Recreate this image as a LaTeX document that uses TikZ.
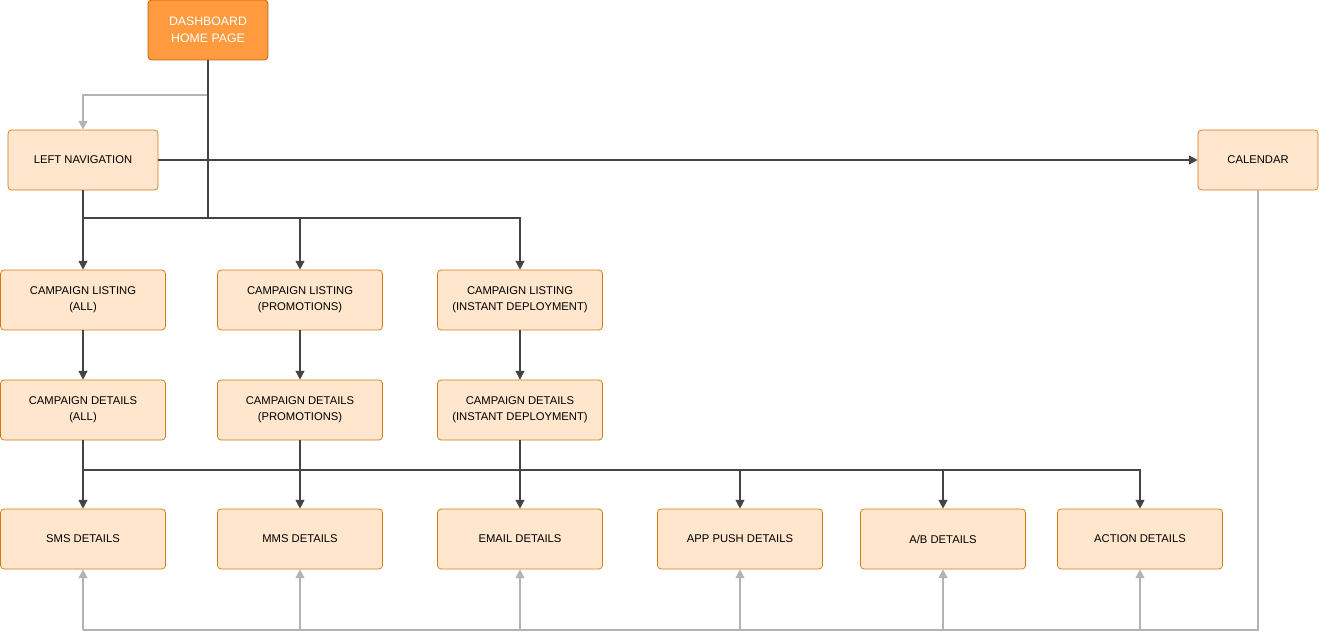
\documentclass[tikz,border=0pt]{standalone}
\usepackage{fontspec}
\setmainfont{Liberation Sans}
\usetikzlibrary{arrows.meta}
\definecolor{boxfill}{HTML}{FFE6CC}
\definecolor{boxline}{HTML}{D07A10}
\definecolor{hubfill}{HTML}{FF9A3F}
\definecolor{hubline}{HTML}{C85A00}
\definecolor{darkline}{HTML}{444444}
\definecolor{greyline}{HTML}{B3B3B3}
\tikzset{
  box/.style={draw=boxline,fill=boxfill,rounded corners=2pt,minimum width=3.3cm,
    minimum height=1.2cm,align=center,font=\fontsize{6.4}{9}\selectfont,inner sep=1pt},
  hub/.style={box,draw=hubline,fill=hubfill,text=white,minimum width=2.4cm,
    font=\fontsize{7}{9.5}\selectfont},
  link/.style={draw=darkline,line width=0.9pt,-{Triangle[length=5pt,width=5pt]}},
  back/.style={draw=greyline,line width=0.9pt,-{Triangle[length=5pt,width=5pt]}},
}
\begin{document}
\begin{tikzpicture}[x=0.02cm,y=-0.02cm]
\useasboundingbox (0,0) rectangle (1319,632);
\node[hub] (home) at (208,30) {DASHBOARD\\HOME PAGE};
\node[box,minimum width=3cm] (nav) at (83,160) {LEFT NAVIGATION};
\node[box,minimum width=2.4cm] (cal) at (1258,160) {CALENDAR};
%
\node[box] (listall) at (83,300) {CAMPAIGN LISTING\\(ALL)};
\node[box] (listpromo) at (300,300) {CAMPAIGN LISTING\\(PROMOTIONS)};
\node[box] (listinst) at (520,300) {CAMPAIGN LISTING\\(INSTANT DEPLOYMENT)};
\node[box] (detall) at (83,410) {CAMPAIGN DETAILS\\(ALL)};
\node[box] (detpromo) at (300,410) {CAMPAIGN DETAILS\\(PROMOTIONS)};
\node[box] (detinst) at (520,410) {CAMPAIGN DETAILS\\(INSTANT DEPLOYMENT)};
%
\node[box] (sms) at (83,539) {SMS DETAILS};
\node[box] (mms) at (300,539) {MMS DETAILS};
\node[box] (email) at (520,539) {EMAIL DETAILS};
\node[box] (push) at (740,539) {APP PUSH DETAILS};
\node[box] (ab) at (943,539) {A/B DETAILS};
\node[box] (action) at (1140,539) {ACTION DETAILS};
%
\coordinate (topbus) at (208,218);
\coordinate (midbus) at (83,470);
\coordinate (lowbus) at (83,630);
%
\draw[back] (home.south) -- (208,95) -| (nav.north);
\draw[draw=darkline,line width=0.9pt] (home.south) -- (topbus) -- (83,218);
\draw[link] (nav.east) -- (cal.west);
\draw[link] (nav.south) -- (listall.north);
\draw[link] (topbus) -| (listpromo.north);
\draw[link] (topbus) -| (listinst.north);
\foreach \a/\b in {listall/detall,listpromo/detpromo,listinst/detinst}
  \draw[link] (\a) -- (\b);
%
\draw[link] (detall.south) -- (sms.north);
\draw[link] (detpromo.south) -- (mms.north);
\draw[link] (detinst.south) -- (email.north);
\foreach \t in {push,ab,action}
  \draw[link] (midbus) -| (\t.north);
%
\draw[draw=greyline,line width=0.9pt] (cal.south) |- (lowbus);
\foreach \t in {sms,mms,email,push,ab,action}
  \draw[back] (\t.south |- lowbus) -- (\t.south);
\end{tikzpicture}
\end{document}
